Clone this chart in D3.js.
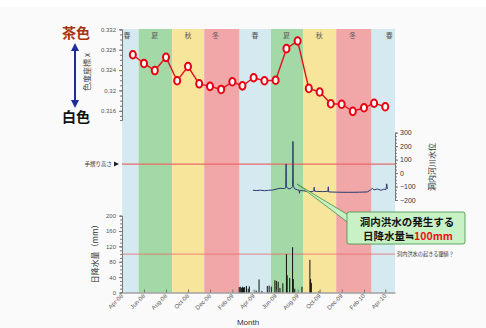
<!DOCTYPE html>
<html>
<head>
<meta charset="utf-8">
<script src="https://cdn.jsdelivr.net/npm/d3@7"></script>
<style>
  html, body { margin: 0; padding: 0; background: #ffffff; }
  svg { display: block; }
  text { font-family: "Liberation Sans", "Noto Sans CJK JP", sans-serif; }
  .jp { font-family: "Noto Sans CJK JP", sans-serif; }
</style>
</head>
<body>
<svg id="chart" width="486" height="328"></svg>
<script>
// ---- data ----
// season bands: start / end dates and names
const seasonNames = ["春", "夏", "秋", "冬", "春", "夏", "秋", "冬", "春"];
const seasonStarts = ["2008-04-01", "2008-05-17", "2008-08-18", "2008-11-15", "2009-02-21",
                      "2009-05-19", "2009-08-16", "2009-11-16", "2010-02-22"];
const seasonEnds   = ["2008-05-17", "2008-08-18", "2008-11-15", "2009-02-21", "2009-05-19",
                      "2009-08-16", "2009-11-16", "2010-02-22", "2010-04-28"];
const seasonLabelDates = ["2008-04-15", "2008-07-01", "2008-10-01", "2008-12-16", "2009-04-05",
                          "2009-07-01", "2009-09-30", "2009-12-31", "2010-04-12"];

// x-axis tick dates (every other month from April)
const monthTicks = ["2008-04-01", "2008-06-01", "2008-08-01", "2008-10-01", "2008-12-01", "2009-02-01",
                    "2009-04-01", "2009-06-01", "2009-08-01", "2009-10-01", "2009-12-01", "2010-02-01",
                    "2010-04-01"];

// monthly chromaticity x of the speleothem surface
const colorMonths = ["2008-05-01", "2008-06-01", "2008-07-01", "2008-08-01", "2008-09-01", "2008-10-01",
                     "2008-11-01", "2008-12-01", "2009-01-01", "2009-02-01", "2009-03-01", "2009-04-01",
                     "2009-05-01", "2009-06-01", "2009-07-01", "2009-08-01", "2009-09-01", "2009-10-01",
                     "2009-11-01", "2009-12-01", "2010-01-01", "2010-02-01", "2010-03-01", "2010-04-01"];
const colorX = [0.3270, 0.3253, 0.3239, 0.3265, 0.3219, 0.3247, 0.3213, 0.3208, 0.3202, 0.3217,
                0.3209, 0.3225, 0.3219, 0.3220, 0.3282, 0.3297, 0.3204, 0.3197, 0.3174, 0.3173,
                0.3159, 0.3166, 0.3175, 0.3168];
const colorTicks = [0.316, 0.32, 0.324, 0.328, 0.332];

// cave river water level (cm)
const levelDates = ["2009-03-30", "2009-04-10", "2009-04-20", "2009-05-01", "2009-05-12", "2009-05-24",
                    "2009-06-05", "2009-06-13", "2009-06-25", "2009-06-29", "2009-06-30", "2009-07-01",
                    "2009-07-08", "2009-07-14", "2009-07-18", "2009-07-19", "2009-07-20", "2009-07-24",
                    "2009-08-01", "2009-08-05", "2009-08-06", "2009-08-08", "2009-08-25", "2009-09-10",
                    "2009-09-15", "2009-09-16", "2009-09-17", "2009-10-10", "2009-10-24", "2009-10-25",
                    "2009-10-26", "2009-11-20", "2009-12-20", "2010-01-20", "2010-02-10", "2010-02-20",
                    "2010-02-24", "2010-03-01", "2010-03-10", "2010-03-20", "2010-03-28", "2010-04-03",
                    "2010-04-05", "2010-04-07"];
const levelValues = [-128, -130, -127, -131, -128, -126, -118, -113, -115, -110, 68, -105,
                     -118, -112, -100, 235, -95, -118, -125, -125, -150, -128, -135, -138,
                     -132, -105, -135, -138, -135, -102, -140, -142, -143, -142, -140, -125,
                     -112, -125, -118, -128, -120, -122, -80, -118];
const levelTicks = [-200, -100, 0, 100, 200, 300];
const railHeight = 67;   // handrail height on the water-level axis

// daily precipitation (mm)
const rainDates = ["2009-02-20", "2009-02-23", "2009-02-26", "2009-03-01", "2009-03-04", "2009-03-07",
                   "2009-03-12", "2009-03-17", "2009-03-20", "2009-04-08", "2009-04-16", "2009-04-24",
                   "2009-05-09", "2009-05-14", "2009-05-20", "2009-05-30", "2009-06-03", "2009-06-08",
                   "2009-06-13", "2009-06-21", "2009-07-01", "2009-07-03", "2009-07-10", "2009-07-18",
                   "2009-07-20", "2009-07-24", "2009-08-13", "2009-09-04", "2009-09-06", "2009-09-08",
                   "2009-09-29"];
const rainValues = [14, 15, 12, 15, 13, 14, 17, 10, 16, 5, 34, 4,
                    17, 18, 15, 32, 30, 28, 12, 24, 100, 45, 38, 118,
                    35, 10, 15, 85, 35, 25, 3];
const rainTicks = [0, 40, 80, 120, 160, 200];
const floodThreshold = 100;

// ---- drawing ----
const parse = d3.timeParse("%Y-%m-%d");
const svg = d3.select("#chart");

svg.append("rect").attr("x", 0).attr("y", 7).attr("width", 486).attr("height", 321).attr("fill", "#fafafa");

const x = d3.scaleTime()
  .domain([parse("2008-04-01"), parse("2010-04-28")])
  .range([122, 395]);
const yColor = d3.scaleLinear().domain([0.3142, 0.332]).range([120, 29.3]);
const yLevel = d3.scaleLinear().domain([-200, 300]).range([200, 132.7]);
const yRain = d3.scaleLinear().domain([0, 200]).range([292.5, 215.7]);

const bandColors = { "春": "#d4e9f0", "夏": "#a3d9a6", "秋": "#f8e59c", "冬": "#f1a7a7" };

// season bands
svg.append("g").selectAll("rect")
  .data(seasonNames.map((n, i) => ({ n, s: parse(seasonStarts[i]), e: parse(seasonEnds[i]) })))
  .join("rect")
  .attr("x", d => x(d.s))
  .attr("width", d => x(d.e) - x(d.s))
  .attr("y", 29)
  .attr("height", 292.5 - 29)
  .attr("fill", d => bandColors[d.n]);

svg.append("g").selectAll("text")
  .data(seasonNames.map((n, i) => ({ n, d: parse(seasonLabelDates[i]) })))
  .join("text")
  .attr("class", "jp")
  .attr("x", d => x(d.d))
  .attr("y", 37.5)
  .attr("text-anchor", "middle")
  .attr("font-size", 7)
  .attr("fill", "#555")
  .text(d => d.n);

// ---- top panel: chromaticity x ----
const gTop = svg.append("g").attr("transform", "translate(122,0)");
gTop.call(d3.axisLeft(yColor).tickValues(d3.range(0.315, 0.3325, 0.001)).tickSize(2).tickFormat(""))
  .call(g => g.selectAll("line,path").attr("stroke", "#777"));
gTop.append("g").call(d3.axisLeft(yColor).tickValues(colorTicks).tickSize(3).tickFormat(d => String(+d.toFixed(3))))
  .call(g => g.select(".domain").remove())
  .call(g => g.selectAll("line").attr("stroke", "#777"))
  .call(g => g.selectAll("text").attr("font-size", 6).attr("fill", "#555"));

const pts = colorMonths.map((m, i) => ({ d: parse(m), v: colorX[i] }));
svg.append("path")
  .datum(pts)
  .attr("fill", "none")
  .attr("stroke", "#e0141e")
  .attr("stroke-width", 1.4)
  .attr("d", d3.line().x(d => x(d.d)).y(d => yColor(d.v)));
svg.append("g").selectAll("ellipse")
  .data(pts)
  .join("ellipse")
  .attr("cx", d => x(d.d))
  .attr("cy", d => yColor(d.v))
  .attr("rx", 3)
  .attr("ry", 3.8)
  .attr("fill", "#fff")
  .attr("stroke", "#e8000f")
  .attr("stroke-width", 2);

svg.append("text").attr("class", "jp")
  .attr("transform", "translate(90,72) rotate(-90)")
  .attr("text-anchor", "middle").attr("font-size", 8).attr("fill", "#444")
  .text("色度座標 x");

svg.append("text").attr("class", "jp")
  .attr("x", 76).attr("y", 38).attr("text-anchor", "middle")
  .attr("font-size", 14).attr("font-weight", "bold").attr("fill", "#a8320c")
  .text("茶色");
svg.append("text").attr("class", "jp")
  .attr("x", 76).attr("y", 122).attr("text-anchor", "middle")
  .attr("font-size", 14).attr("font-weight", "bold").attr("fill", "#111")
  .text("白色");

const defs = svg.append("defs");
defs.append("marker").attr("id", "ah").attr("viewBox", "0 0 10 10")
  .attr("refX", 5).attr("refY", 5).attr("markerWidth", 4).attr("markerHeight", 4)
  .attr("orient", "auto-start-reverse")
  .append("path").attr("d", "M0,0 L10,5 L0,10 z").attr("fill", "#1c2d9a");
svg.append("line")
  .attr("x1", 75).attr("x2", 75).attr("y1", 47).attr("y2", 104)
  .attr("stroke", "#1c2d9a").attr("stroke-width", 2)
  .attr("marker-start", "url(#ah)").attr("marker-end", "url(#ah)");

// ---- middle panel: water level ----
svg.append("line")
  .attr("x1", 122).attr("x2", 395)
  .attr("y1", yLevel(railHeight)).attr("y2", yLevel(railHeight))
  .attr("stroke", "#e86a6a").attr("stroke-width", 1.2);
svg.append("text").attr("class", "jp")
  .attr("x", 112).attr("y", yLevel(railHeight) + 2)
  .attr("text-anchor", "end").attr("font-size", 5.5).attr("fill", "#333")
  .text("手摺り高さ");
svg.append("path")
  .attr("d", `M114,${yLevel(railHeight) - 2.5} L119,${yLevel(railHeight)} L114,${yLevel(railHeight) + 2.5} Z`)
  .attr("fill", "#222");

const lv = levelDates.map((m, i) => ({ d: parse(m), v: levelValues[i] }));
svg.append("path")
  .datum(lv)
  .attr("fill", "none")
  .attr("stroke", "#2b3c6e")
  .attr("stroke-width", 1)
  .attr("d", d3.line().x(d => x(d.d)).y(d => yLevel(d.v)));

const gRight = svg.append("g").attr("transform", "translate(395,0)");
gRight.call(d3.axisRight(yLevel).tickValues(d3.range(-200, 301, 25)).tickSize(2).tickFormat(""))
  .call(g => g.selectAll("line,path").attr("stroke", "#777"));
gRight.append("g").call(d3.axisRight(yLevel).tickValues(levelTicks).tickSize(3).tickFormat(d => d < 0 ? "\u2212" + Math.abs(d) : d))
  .call(g => g.select(".domain").remove())
  .call(g => g.selectAll("line").attr("stroke", "#777"))
  .call(g => g.selectAll("text").attr("font-size", 7).attr("fill", "#333").attr("x", 5));
svg.append("text").attr("class", "jp")
  .attr("transform", "translate(435,167) rotate(-90)")
  .attr("text-anchor", "middle").attr("font-size", 8).attr("fill", "#333")
  .text("洞内河川水位");

// ---- bottom panel: daily precipitation ----
svg.append("line")
  .attr("x1", 122).attr("x2", 395)
  .attr("y1", yRain(floodThreshold)).attr("y2", yRain(floodThreshold))
  .attr("stroke", "#e86a6a").attr("stroke-width", 0.8);
svg.append("text").attr("class", "jp")
  .attr("x", 397).attr("y", yRain(floodThreshold) + 2)
  .attr("font-size", 5.2).attr("fill", "#333")
  .text("洞内洪水の起きる閾値？");

svg.append("g").selectAll("rect")
  .data(rainDates.map((m, i) => ({ d: parse(m), v: rainValues[i] })))
  .join("rect")
  .attr("x", d => x(d.d) - 0.5)
  .attr("width", 1)
  .attr("y", d => yRain(d.v))
  .attr("height", d => yRain(0) - yRain(d.v))
  .attr("fill", "#111");

const gLeftB = svg.append("g").attr("transform", "translate(122,0)");
gLeftB.call(d3.axisLeft(yRain).tickValues(d3.range(0, 201, 10)).tickSize(2).tickFormat(""))
  .call(g => g.selectAll("line,path").attr("stroke", "#777"));
gLeftB.append("g").call(d3.axisLeft(yRain).tickValues(rainTicks).tickSize(3))
  .call(g => g.select(".domain").remove())
  .call(g => g.selectAll("line").attr("stroke", "#777"))
  .call(g => g.selectAll("text").attr("font-size", 6).attr("fill", "#555"));
svg.append("text").attr("class", "jp")
  .attr("transform", "translate(98,252) rotate(-90)")
  .attr("text-anchor", "middle").attr("font-size", 8).attr("fill", "#333")
  .text("日降水量（mm）");

// x axis
const gX = svg.append("g").attr("transform", `translate(0,${yRain(0)})`);
gX.call(d3.axisBottom(x).tickValues(monthTicks.map(parse)).tickSizeInner(-3).tickSizeOuter(0)
    .tickFormat(d3.timeFormat("%b-%y")))
  .call(g => g.selectAll("line,path").attr("stroke", "#777"))
  .call(g => g.selectAll("text")
    .attr("font-size", 6).attr("fill", "#555")
    .attr("text-anchor", "end")
    .attr("dy", 0).attr("y", 0)
    .attr("transform", "translate(1,4) rotate(-45)"));
svg.append("text")
  .attr("x", 248).attr("y", 325).attr("text-anchor", "middle")
  .attr("font-size", 8).attr("fill", "#333")
  .text("Month");

// callout
svg.append("path")
  .attr("d", "M297,184 L350,216 L350,224 Z")
  .attr("fill", "#c8f2c6").attr("stroke", "#3f8f3f").attr("stroke-width", 0.8);
svg.append("rect")
  .attr("x", 347).attr("y", 212).attr("width", 118).attr("height", 32).attr("rx", 2)
  .attr("fill", "#c8f2c6").attr("stroke", "#3f8f3f").attr("stroke-width", 0.8);
const cb = svg.append("text").attr("class", "jp")
  .attr("font-size", 10.5).attr("font-weight", "bold").attr("fill", "#111");
cb.append("tspan").attr("x", 407).attr("y", 226).attr("text-anchor", "middle").text("洞内洪水の発生する");
const l2 = svg.append("text").attr("class", "jp")
  .attr("x", 408).attr("y", 240).attr("text-anchor", "middle")
  .attr("font-size", 10.5).attr("font-weight", "bold").attr("fill", "#111");
l2.append("tspan").text("日降水量≒");
l2.append("tspan").attr("fill", "#ee1111").text("100mm");
</script>
</body>
</html>
